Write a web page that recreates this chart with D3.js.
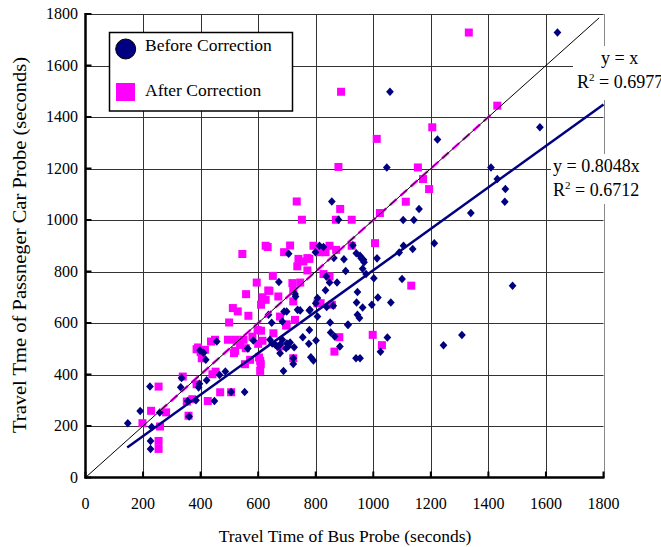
<!DOCTYPE html>
<html>
<head>
<meta charset="utf-8">
<script src="https://cdn.jsdelivr.net/npm/d3@7/dist/d3.min.js"></script>
<style>
body { margin: 0; background: #fff; }
svg text { font-family: "Liberation Serif", "Times New Roman", serif; fill: #000; }
</style>
</head>
<body>
<svg id="chart" width="661" height="547"></svg>
<script>
// [bus probe seconds, car probe seconds]
var beforeCorrection = [
    [147, 211], [190, 258], [224, 353], [230, 196], [226, 142], [226, 111], [258, 252],
    [334, 386], [331, 350], [355, 297], [360, 237], [384, 300], [393, 350], [396, 364],
    [410, 484], [398, 493], [418, 457], [421, 378], [448, 297], [456, 528], [466, 398],
    [486, 412], [506, 332], [553, 332], [583, 532], [564, 501], [636, 632], [647, 601],
    [672, 759], [641, 535], [649, 520], [660, 515], [668, 508], [676, 516], [684, 535],
    [700, 520], [705, 510], [676, 483], [688, 414], [722, 441], [722, 463], [684, 606],
    [699, 645], [728, 713], [730, 703], [737, 651], [746, 649], [755, 545], [778, 573],
    [776, 519], [783, 467], [792, 454], [801, 532], [778, 649], [800, 677], [806, 697],
    [806, 625], [838, 662], [850, 602], [852, 563], [866, 548], [884, 509], [861, 667],
    [837, 781], [848, 757], [834, 727], [874, 757], [863, 852], [813, 900], [827, 895],
    [799, 875], [706, 869], [898, 848], [904, 802], [911, 593], [940, 463], [941, 871],
    [958, 851], [968, 836], [963, 811], [954, 861], [966, 846], [975, 790], [945, 720],
    [942, 680], [963, 660], [945, 632], [952, 619], [929, 902], [1002, 774], [1100, 771],
    [995, 671], [1016, 699], [1061, 680], [1013, 851], [1049, 544], [1025, 488], [954, 463],
    [1090, 874], [1105, 900], [1137, 887], [1212, 910], [1104, 1000], [1141, 1000],
    [1159, 1043], [1339, 1027], [1457, 1071], [1459, 1120], [1431, 1159], [1409, 1204],
    [1223, 1313], [1047, 1204], [1058, 1498], [1579, 1360], [1640, 1728], [856, 1072],
    [879, 1001], [1484, 745], [1308, 553], [1244, 514], [725, 506], [711, 524], [697, 502],
    [690, 645], [780, 651], [913, 593]
]

var afterCorrection = [
    [198, 211], [228, 259], [254, 353], [259, 198], [254, 142], [254, 111], [280, 253],
    [338, 392], [358, 240], [386, 362], [352, 295], [371, 304], [391, 505], [400, 487],
    [404, 463], [386, 498], [415, 496], [425, 297], [436, 528], [450, 535], [441, 401],
    [452, 411], [468, 331], [506, 331], [495, 535], [522, 535], [549, 535], [537, 515],
    [557, 502], [499, 602], [516, 483], [520, 492], [512, 658], [529, 645], [554, 440],
    [558, 712], [566, 628], [545, 868], [580, 547], [595, 757], [598, 573], [610, 570],
    [615, 531], [600, 519], [603, 466], [607, 453], [609, 440], [607, 414], [572, 457],
    [610, 671], [626, 690], [615, 700], [639, 725], [635, 726], [626, 900], [633, 895],
    [651, 783], [653, 560], [670, 703], [676, 509], [690, 875], [711, 901], [699, 595],
    [719, 755], [722, 463], [722, 725], [722, 684], [746, 757], [728, 612], [676, 625],
    [740, 849], [736, 820], [757, 839], [771, 852], [778, 849], [771, 804], [792, 900],
    [813, 875], [834, 875], [848, 900], [871, 884], [827, 790], [848, 781], [865, 489],
    [882, 545], [925, 900], [1006, 910], [998, 554], [1030, 514], [734, 1072], [752, 1001],
    [870, 1001], [925, 1001], [885, 1043], [879, 1206], [888, 1498], [1012, 1315],
    [1332, 1728], [1431, 1444], [1205, 1360], [1155, 1204], [1173, 1159], [1194, 1120],
    [1113, 1071], [1023, 1027], [1132, 745], [806, 677], [817, 677], [856, 671], [697, 590]
]

var axisTicks = [0, 200, 400, 600, 800, 1000, 1200, 1400, 1600, 1800]
var seriesNames = ['Before Correction', 'After Correction']
var identityFit = { label: 'y = x', r2Value: ' = 0.6977', slope: 1, from: 260, to: 1410 }
var beforeFit = { label: 'y = 0.8048x', r2Value: ' = 0.6712', slope: 0.8048, from: 145, to: 1800 }

var navy = '#000080'
var pink = '#ff00ff'

var svg = d3.select('#chart')

var x = d3.scaleLinear().domain([0, 1800]).range([85.5, 603.5])
var y = d3.scaleLinear().domain([0, 1800]).range([477.5, 14])

// grid
var grid = svg.append('g').attr('stroke', '#333').attr('stroke-width', 1)
grid.selectAll('.vg')
    .data(axisTicks.slice(1))
    .join('line')
    .attr('x1', d => Math.round(x(d)) + 0.5)
    .attr('x2', d => Math.round(x(d)) + 0.5)
    .attr('y1', y(1800))
    .attr('y2', y(0))
    .attr('stroke', d => (d == 1800 ? '#888' : '#333'))
grid.selectAll('.hg')
    .data(axisTicks.slice(1))
    .join('line')
    .attr('y1', d => Math.round(y(d)) + 0.5)
    .attr('y2', d => Math.round(y(d)) + 0.5)
    .attr('x1', x(0))
    .attr('x2', x(1800))

// points: pink first, navy diamonds on top
svg.append('g')
    .selectAll('rect')
    .data(afterCorrection)
    .join('rect')
    .attr('x', d => x(d[0]) - 4)
    .attr('y', d => y(d[1]) - 4)
    .attr('width', 8)
    .attr('height', 8)
    .attr('fill', pink)

var diamond = d3.symbol().type(d3.symbolSquare).size(30)
svg.append('g')
    .selectAll('path')
    .data(beforeCorrection)
    .join('path')
    .attr('d', diamond)
    .attr('transform', d => 'translate(' + x(d[0]) + ',' + y(d[1]) + ') scale(1,1.1) rotate(45)')
    .attr('fill', navy)

// trend lines
svg.append('line')
    .attr('x1', x(identityFit.from)).attr('y1', y(identityFit.from * identityFit.slope))
    .attr('x2', x(identityFit.to)).attr('y2', y(identityFit.to * identityFit.slope))
    .attr('stroke', pink)
    .attr('stroke-width', 2.5)
    .attr('stroke-dasharray', '9,5')

svg.append('line')
    .attr('x1', x(0)).attr('y1', y(0))
    .attr('x2', x(1785)).attr('y2', y(1785))
    .attr('stroke', '#000')
    .attr('stroke-width', 1)

svg.append('line')
    .attr('x1', x(beforeFit.from)).attr('y1', y(beforeFit.from * beforeFit.slope))
    .attr('x2', x(beforeFit.to)).attr('y2', y(beforeFit.to * beforeFit.slope))
    .attr('stroke', navy)
    .attr('stroke-width', 2.5)

// axes (thick, ticks inside)
var axes = svg.append('g').attr('stroke', '#000')
axes.append('line').attr('x1', x(0)).attr('x2', x(0)).attr('y1', y(1800) - 1).attr('y2', y(0) + 1).attr('stroke-width', 2.5)
axes.append('line').attr('x1', x(0) - 1).attr('x2', x(1800) + 1).attr('y1', y(0)).attr('y2', y(0)).attr('stroke-width', 2.5)
axes.selectAll('.yt')
    .data(axisTicks)
    .join('line')
    .attr('x1', x(0)).attr('x2', x(0) + 6)
    .attr('y1', d => y(d)).attr('y2', d => y(d))
    .attr('stroke-width', 2)
axes.selectAll('.xt')
    .data(axisTicks)
    .join('line')
    .attr('x1', d => x(d)).attr('x2', d => x(d))
    .attr('y1', y(0)).attr('y2', y(0) - 6)
    .attr('stroke-width', 2)

svg.append('g')
    .selectAll('text')
    .data(axisTicks)
    .join('text')
    .attr('x', 78)
    .attr('y', d => y(d) + 5)
    .attr('text-anchor', 'end')
    .attr('font-size', 16)
    .text(d => d)

svg.append('g')
    .selectAll('text')
    .data(axisTicks)
    .join('text')
    .attr('x', d => x(d))
    .attr('y', 509)
    .attr('text-anchor', 'middle')
    .attr('font-size', 16)
    .text(d => d)

svg.append('text')
    .attr('x', 345)
    .attr('y', 542)
    .attr('text-anchor', 'middle')
    .attr('font-size', 17.5)
    .text('Travel Time of Bus Probe (seconds)')

svg.append('text')
    .attr('transform', 'translate(26,245) rotate(-90)')
    .attr('text-anchor', 'middle')
    .attr('font-size', 19)
    .attr('textLength', 376)
    .attr('lengthAdjust', 'spacingAndGlyphs')
    .text('Travel Tme of Passneger Car Probe (seconds)')

// fit labels with white boxes
function fitLabel(fit, lx, ly, r2x, bx, by, bw, bh) {
    svg.append('rect').attr('x', bx).attr('y', by).attr('width', bw).attr('height', bh).attr('fill', '#fff')
    svg.append('text').attr('x', lx).attr('y', ly).attr('font-size', 18).text(fit.label)
    var t = svg.append('text').attr('x', r2x).attr('y', ly + 24).attr('font-size', 18)
    t.append('tspan').text('R')
    t.append('tspan').attr('dy', -7).attr('font-size', 11).text('2')
    t.append('tspan').attr('dy', 7).text(fit.r2Value)
}
fitLabel(identityFit, 601, 64, 577, 573, 46, 90, 54)
fitLabel(beforeFit, 553, 172, 553, 551, 154, 92, 50)

// legend
var legend = svg.append('g')
legend.append('rect')
    .attr('x', 109.5).attr('y', 32.5).attr('width', 183).attr('height', 78.5)
    .attr('fill', '#fff').attr('stroke', '#000').attr('stroke-width', 1.5)
legend.append('circle')
    .attr('cx', 125.7).attr('cy', 49).attr('r', 10)
    .attr('fill', navy).attr('stroke', '#000').attr('stroke-width', 1)
legend.append('rect')
    .attr('x', 116).attr('y', 83).attr('width', 19).attr('height', 18)
    .attr('fill', pink)
legend.selectAll('text')
    .data(seriesNames)
    .join('text')
    .attr('x', 145)
    .attr('y', (d, i) => 50.5 + i * 45)
    .attr('font-size', 17.5)
    .text(d => d)
</script>
</body>
</html>
